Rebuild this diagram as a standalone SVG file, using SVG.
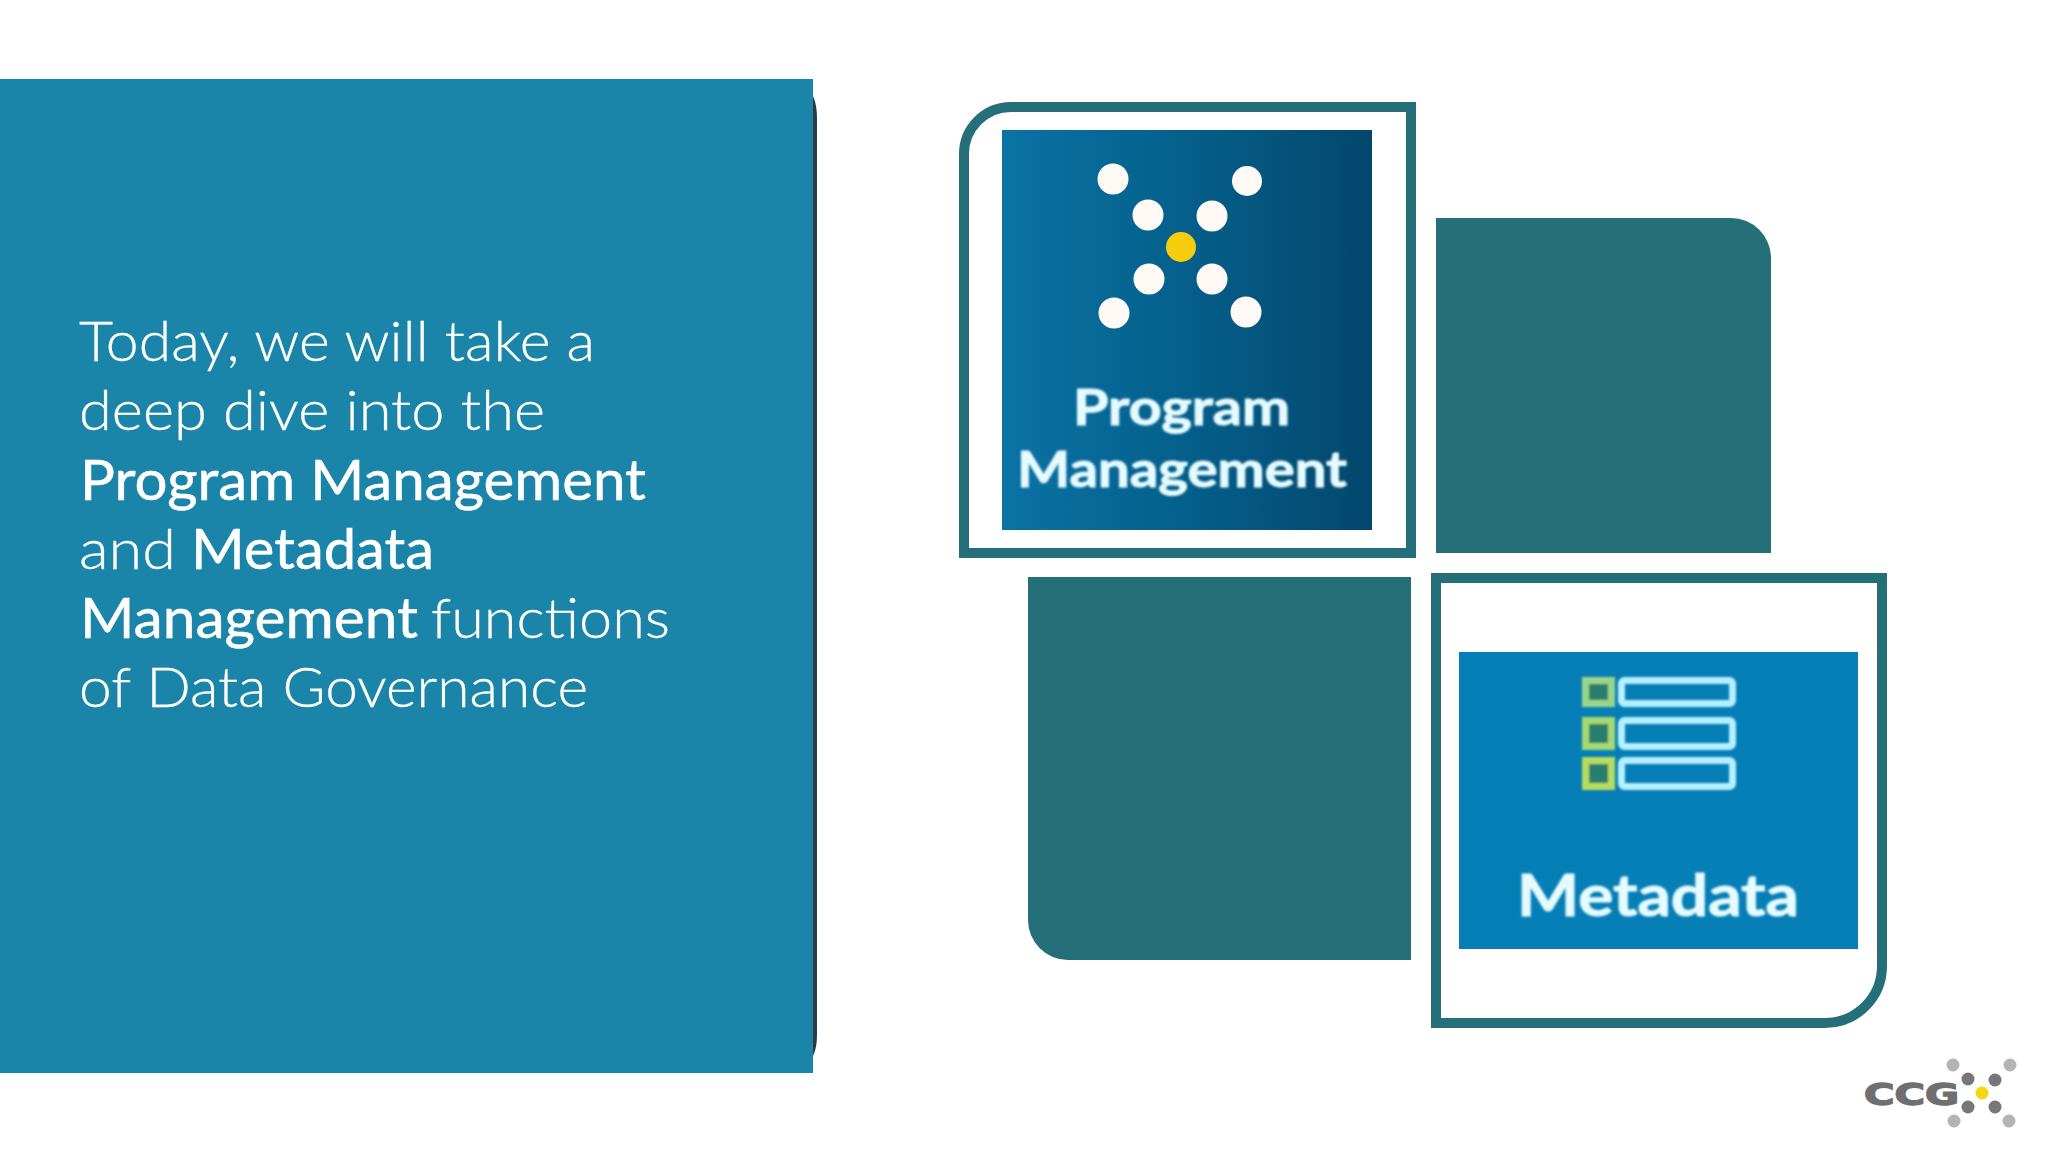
<svg xmlns="http://www.w3.org/2000/svg" width="2048" height="1152" viewBox="0 0 2048 1152">
<style>
.lt{font-family:Lato,"Liberation Sans",sans-serif;font-weight:300;font-size:56px;fill:#fff;stroke:#fff;stroke-width:0.3}
.bd{font-family:Lato,"Liberation Sans",sans-serif;font-weight:400;font-size:56px;fill:#fff;stroke:#fff;stroke-width:0.5}
.ic{font-family:Lato,"Liberation Sans",sans-serif;font-weight:700;fill:#e6fbff;stroke:#e6fbff;stroke-width:1}
.teal{fill:#246f78}
.frame{fill:#fff;stroke:#246f78;stroke-width:10}
.w{fill:#fffaf6}
.g1{fill:#777779}
.g2{fill:#b4b4b6}
.gb{fill:#2a7f6c;stroke-width:7}
.tb{fill:none;stroke:#b4f0ff;stroke-width:7}
</style>
<defs>
<linearGradient id="pm" x1="0" y1="0" x2="1" y2="0">
<stop offset="0" stop-color="#0a73a5"/><stop offset="0.5" stop-color="#045f8a"/><stop offset="1" stop-color="#03476c"/>
</linearGradient>
<filter id="soft" x="-5%" y="-5%" width="110%" height="110%"><feGaussianBlur stdDeviation="1.100"/></filter>
<filter id="soft2" x="-5%" y="-5%" width="110%" height="110%"><feGaussianBlur stdDeviation="1"/></filter>
<filter id="soft3" x="-5%" y="-5%" width="110%" height="110%"><feGaussianBlur stdDeviation="0.6"/></filter>
</defs>
<rect width="2048" height="1152" fill="#fff"/>
<g id="panel">
<path d="M813 96Q817 105 817 118V1035Q817 1048 813 1056Z" fill="#2c3b46"/>
<rect x="0" y="79" width="813" height="994" fill="#1a85a8"/>
<text class="lt" x="79" y="361" textLength="516" lengthAdjust="spacingAndGlyphs">Today, we will take a</text>
<text class="lt" x="79" y="430" textLength="466" lengthAdjust="spacingAndGlyphs">deep dive into the</text>
<text class="bd" x="80" y="500" textLength="566" lengthAdjust="spacingAndGlyphs">Program Management</text>
<text class="lt" x="79" y="569" textLength="97" lengthAdjust="spacingAndGlyphs">and</text>
<text class="bd" x="191" y="569" textLength="243" lengthAdjust="spacingAndGlyphs">Metadata</text>
<text class="bd" x="80" y="638" textLength="338" lengthAdjust="spacingAndGlyphs">Management</text>
<text class="lt" x="431" y="638" textLength="239" lengthAdjust="spacingAndGlyphs">functions</text>
<text class="lt" x="79" y="707" textLength="509" lengthAdjust="spacingAndGlyphs">of Data Governance</text>
</g>
<g id="program-management">
<path class="frame" d="M1011 107H1411V553H964V154A47 47 0 0 1 1011 107Z"/>
<rect x="1002" y="130" width="370" height="400" fill="url(#pm)"/>
<g filter="url(#soft3)">
<circle class="w" cx="1113" cy="179" r="15.500"/><circle class="w" cx="1247" cy="181" r="15"/>
<circle class="w" cx="1148" cy="215" r="15.500"/><circle class="w" cx="1212" cy="216" r="15.500"/>
<circle cx="1181" cy="247" r="15" fill="#f6cd10"/>
<circle class="w" cx="1149" cy="279" r="15.500"/><circle class="w" cx="1212" cy="279" r="15.500"/>
<circle class="w" cx="1114" cy="313" r="15.500"/><circle class="w" cx="1246" cy="312" r="15.500"/>
</g>
<g filter="url(#soft)">
<text class="ic" x="1073" y="425" font-size="50" textLength="217" lengthAdjust="spacingAndGlyphs">Program</text>
<text class="ic" x="1017" y="487" font-size="50" textLength="330" lengthAdjust="spacingAndGlyphs">Management</text>
</g>
</g>
<g id="block-top-right">
<path class="teal" d="M1436 218H1731A40 40 0 0 1 1771 258V553H1436Z"/>
</g>
<g id="block-bottom-left">
<path class="teal" d="M1028 577H1411V960H1068A40 40 0 0 1 1028 920Z"/>
</g>
<g id="metadata">
<path class="frame" d="M1436 578H1882V966A57 57 0 0 1 1825 1023H1436Z"/>
<rect x="1459" y="652" width="399" height="297" fill="#067fb6"/>
<g filter="url(#soft2)">
<rect class="gb" x="1585.500" y="680.500" width="26" height="23" stroke="#9ad48a"/>
<rect class="gb" x="1585.500" y="720.500" width="26" height="26" stroke="#a4d870"/>
<rect class="gb" x="1585.500" y="760.500" width="26" height="26" stroke="#b4dc60"/>
<rect class="tb" x="1621.500" y="680.500" width="111" height="23" rx="3"/>
<rect class="tb" x="1621.500" y="720.500" width="111" height="26" rx="3"/>
<rect class="tb" x="1621.500" y="760.500" width="111" height="26" rx="3"/>
</g>
<text class="ic" x="1517" y="916" font-size="58" textLength="282" lengthAdjust="spacingAndGlyphs" filter="url(#soft)">Metadata</text>
</g>
<g id="ccg-logo">
<text x="1864" y="1105" font-family="'DejaVu Sans',sans-serif" font-weight="700" font-size="31" textLength="95" lengthAdjust="spacingAndGlyphs" fill="#6f6f72" stroke="#6f6f72" stroke-width="1.500">CCG</text>
<circle class="g2" cx="1953" cy="1065" r="6.500"/><circle class="g2" cx="2010" cy="1065" r="6.500"/>
<circle class="g1" cx="1968" cy="1079" r="6.500"/><circle class="g1" cx="1995" cy="1080" r="6.500"/>
<circle cx="1982" cy="1093" r="6.500" fill="#f6d416"/>
<circle class="g1" cx="1968" cy="1107" r="6.500"/><circle class="g1" cx="1995" cy="1107" r="6.500"/>
<circle class="g2" cx="1954" cy="1121" r="6.500"/><circle class="g2" cx="2009" cy="1121" r="6.500"/>
</g>
</svg>
